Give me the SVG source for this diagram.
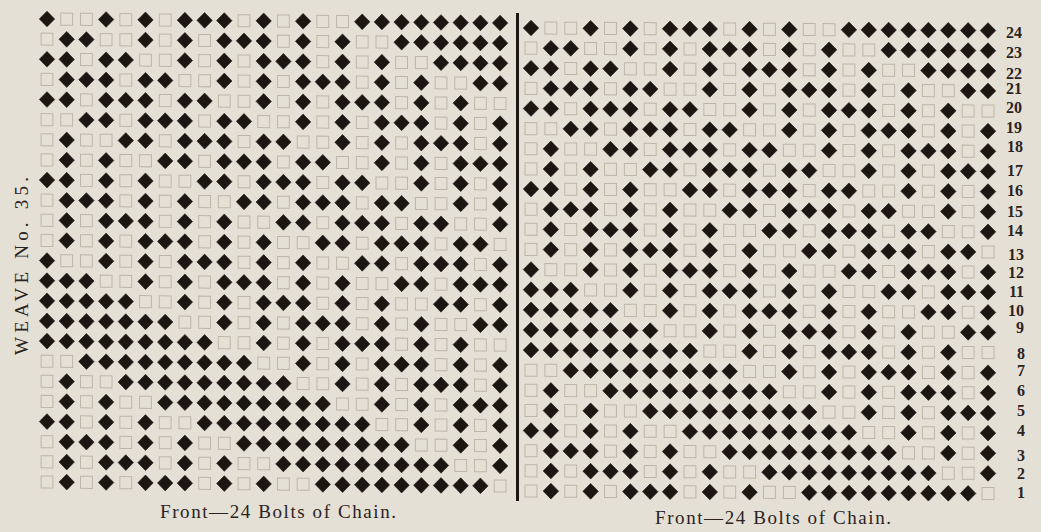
<svg xmlns="http://www.w3.org/2000/svg" xmlns:xlink="http://www.w3.org/1999/xlink" width="1041" height="532" viewBox="0 0 1041 532">
<style>
.d{fill:none;stroke:none;marker-start:url(#md);marker-mid:url(#md);marker-end:url(#md)}
.s{fill:none;stroke:none;marker-start:url(#ms);marker-mid:url(#ms);marker-end:url(#ms)}
.num{font-family:"Liberation Serif","Times New Roman",serif;font-weight:bold;font-size:16px;fill:#2a231f;text-anchor:end}
.cap{font-family:"Liberation Serif","Times New Roman",serif;font-size:19px;fill:#2a231f}
</style>
<defs>
<marker id="md" markerUnits="userSpaceOnUse" markerWidth="1" markerHeight="1" viewBox="-.5 -.5 1 1" refX="0" refY="0" orient="0" overflow="visible">
<path d="M0-.39L.39 0 0 .39-.39 0z" fill="#1c1613" stroke="#1c1613" stroke-width=".03" stroke-linejoin="round"/>
</marker>
<marker id="ms" markerUnits="userSpaceOnUse" markerWidth="1" markerHeight="1" viewBox="-.5 -.5 1 1" refX="0" refY="0" orient="0" overflow="visible">
<rect x="-.3" y="-.3" width=".6" height=".6" fill="none" stroke="#bdb5a7" stroke-width=".05"/>
</marker>
<g id="weave">
<g id="weave-diamonds">
<path class="d" d="M0 0H3 5 7 8 9 11 13 16 17 18 19 20 21 22 23"/>
<path class="d" d="M1 1H2 5 7 9 10 11 13 15 18 19 20 21 22 23"/>
<path class="d" d="M0 2H1 3 4 7 9 11 12 13 15 17 20 21 22 23"/>
<path class="d" d="M1 3H2 3 5 6 9 11 13 14 15 17 19 22 23"/>
<path class="d" d="M0 4H1 3 4 5 7 8 11 13 15 16 17 19 21"/>
<path class="d" d="M2 5H3 5 6 7 9 10 13 15 17 18 19 21 23"/>
<path class="d" d="M1 6H4 5 7 8 9 11 12 15 17 19 20 21 23"/>
<path class="d" d="M1 7H3 6 7 9 10 11 13 14 17 19 21 22 23"/>
<path class="d" d="M0 8H1 3 5 8 9 11 12 13 15 16 19 21 23"/>
<path class="d" d="M1 9H2 3 5 7 10 11 13 14 15 17 18 21 23"/>
<path class="d" d="M1 10H3 4 5 7 9 12 13 15 16 17 19 20 23"/>
<path class="d" d="M1 11H3 5 6 7 9 11 14 15 17 18 19 21 22"/>
<path class="d" d="M0 12H3 5 7 8 9 11 13 16 17 19 20 21 23"/>
<path class="d" d="M0 13H1 2 5 7 9 10 11 13 15 18 19 21 22 23"/>
<path class="d" d="M0 14H1 2 3 4 7 9 11 12 13 15 17 20 21 23"/>
<path class="d" d="M0 15H1 2 3 4 5 6 9 11 13 14 15 17 19 22 23"/>
<path class="d" d="M0 16H1 2 3 4 5 6 7 8 11 13 15 16 17 19 21"/>
<path class="d" d="M2 17H3 4 5 6 7 8 9 10 13 15 17 18 19 21 23"/>
<path class="d" d="M1 18H4 5 6 7 8 9 10 11 12 15 17 19 20 21 23"/>
<path class="d" d="M1 19H3 6 7 8 9 10 11 12 13 14 17 19 21 22 23"/>
<path class="d" d="M0 20H1 3 5 8 9 10 11 12 13 14 15 16 19 21 23"/>
<path class="d" d="M1 21H2 3 5 7 10 11 12 13 14 15 16 17 18 21 23"/>
<path class="d" d="M1 22H3 4 5 7 9 12 13 14 15 16 17 18 19 20 23"/>
<path class="d" d="M1 23H3 5 6 7 9 11 14 15 16 17 18 19 20 21 22"/>
</g>
<g id="weave-squares">
<path class="s" d="M1 0H2 4 6 10 12 14 15"/>
<path class="s" d="M0 1H3 4 6 8 12 14 16 17"/>
<path class="s" d="M2 2H5 6 8 10 14 16 18 19"/>
<path class="s" d="M0 3H4 7 8 10 12 16 18 20 21"/>
<path class="s" d="M2 4H6 9 10 12 14 18 20 22 23"/>
<path class="s" d="M0 5H1 4 8 11 12 14 16 20 22"/>
<path class="s" d="M0 6H2 3 6 10 13 14 16 18 22"/>
<path class="s" d="M0 7H2 4 5 8 12 15 16 18 20"/>
<path class="s" d="M2 8H4 6 7 10 14 17 18 20 22"/>
<path class="s" d="M0 9H4 6 8 9 12 16 19 20 22"/>
<path class="s" d="M0 10H2 6 8 10 11 14 18 21 22"/>
<path class="s" d="M0 11H2 4 8 10 12 13 16 20 23"/>
<path class="s" d="M1 12H2 4 6 10 12 14 15 18 22"/>
<path class="s" d="M3 13H4 6 8 12 14 16 17 20"/>
<path class="s" d="M5 14H6 8 10 14 16 18 19 22"/>
<path class="s" d="M7 15H8 10 12 16 18 20 21"/>
<path class="s" d="M9 16H10 12 14 18 20 22 23"/>
<path class="s" d="M0 17H1 11 12 14 16 20 22"/>
<path class="s" d="M0 18H2 3 13 14 16 18 22"/>
<path class="s" d="M0 19H2 4 5 15 16 18 20"/>
<path class="s" d="M2 20H4 6 7 17 18 20 22"/>
<path class="s" d="M0 21H4 6 8 9 19 20 22"/>
<path class="s" d="M0 22H2 6 8 10 11 21 22"/>
<path class="s" d="M0 23H2 4 8 10 12 13 23"/>
</g>
</g>
</defs>
<rect width="1041" height="532" fill="#e5e0d6"/>
<g id="grid-left" transform="matrix(19.7 .174 0 20.13 47 19)"><use href="#weave" xlink:href="#weave"/></g>
<g id="grid-right" transform="matrix(19.87 .11 0 20.13 531 28)"><use href="#weave" xlink:href="#weave"/></g>
<rect id="divider" x="516" y="13" width="3" height="488" fill="#1c1613"/>
<g id="row-numbers" class="num">
<text x="1022" y="37.5">24</text>
<text x="1022" y="58">23</text>
<text x="1022" y="79">22</text>
<text x="1022" y="94">21</text>
<text x="1022" y="113">20</text>
<text x="1022" y="132.5">19</text>
<text x="1023" y="152">18</text>
<text x="1023" y="176">17</text>
<text x="1023" y="196">16</text>
<text x="1023" y="217">15</text>
<text x="1023" y="236">14</text>
<text x="1024" y="260">13</text>
<text x="1024" y="278">12</text>
<text x="1024" y="297">11</text>
<text x="1024" y="316">10</text>
<text x="1024" y="333">9</text>
<text x="1025" y="359">8</text>
<text x="1025" y="376">7</text>
<text x="1025" y="396">6</text>
<text x="1025" y="416">5</text>
<text x="1025" y="436">4</text>
<text x="1025" y="461">3</text>
<text x="1025" y="479">2</text>
<text x="1025" y="498">1</text>
</g>
<text id="title" transform="translate(28 266) rotate(-90)" text-anchor="middle" font-family="Liberation Serif, Times New Roman, serif" font-size="19" fill="#2a231f" textLength="178" lengthAdjust="spacing">WEAVE No. 35.</text>
<text id="caption-left" class="cap" x="160" y="518" textLength="236" lengthAdjust="spacing">Front—24 Bolts of Chain.</text>
<text id="caption-right" class="cap" x="655" y="524" textLength="236" lengthAdjust="spacing">Front—24 Bolts of Chain.</text>
</svg>
